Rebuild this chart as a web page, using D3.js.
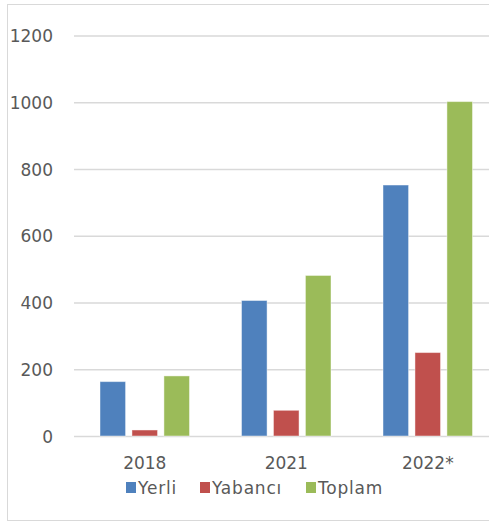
<!DOCTYPE html>
<html><head><meta charset="utf-8">
<script src="https://cdn.jsdelivr.net/npm/d3@7"></script>
<style>html,body{margin:0;padding:0;background:#fff;}svg{display:block;}</style>
</head><body>
<svg id="c" width="489" height="522"></svg>
<script>
const categories = ["2018", "2021", "2022*"];
const seriesNames = ["Yerli", "Yabancı", "Toplam"];
const yerli = [163, 406, 752];
const yabanci = [18, 77, 250];
const toplam = [180, 481, 1002];
const yTicks = [0, 200, 400, 600, 800, 1000, 1200];
const colors = ["#4F81BD", "#C0504D", "#9BBB59"];

const values = [yerli, yabanci, toplam];
const svg = d3.select("#c");
const font = "'DejaVu Sans', sans-serif";
const textColor = "#595959";

// outer border
svg.append("rect").attr("x", 7.5).attr("y", 4.5).attr("width", 500).attr("height", 516)
  .attr("fill", "none").attr("stroke", "#d9d9d9").attr("stroke-width", 1);

const left = 74, step = 141.5;
const x0 = d3.scaleBand().domain(categories).range([left, left + step * categories.length]).padding(0);
const x1 = d3.scaleBand().domain(seriesNames).range([26, 115.5]).paddingInner(0.2).paddingOuter(0);
const y = d3.scaleLinear().domain([0, 1200]).range([436, 35.5]);

// gridlines
const yAxis = d3.axisLeft(y).tickValues(yTicks).tickSize(0).tickPadding(0).tickFormat(d3.format("d"));
const gy = svg.append("g").attr("transform", `translate(${left},0)`).call(yAxis);
gy.select(".domain").remove();
gy.selectAll(".tick line").attr("x2", 489 - left).attr("stroke", "#d9d9d9").attr("stroke-width", 1.3);
gy.selectAll(".tick text").attr("x", -21).attr("dy", "0.36em").attr("fill", textColor)
  .style("font-family", font).style("font-size", "17px");

// bars
const groups = svg.selectAll("g.grp").data(categories).join("g").attr("class", "grp")
  .attr("transform", d => `translate(${x0(d)},0)`);
groups.selectAll("rect").data((d, i) => seriesNames.map((s, j) => ({s, j, v: values[j][i]})))
  .join("rect")
  .attr("x", d => x1(d.s))
  .attr("y", d => y(d.v))
  .attr("width", x1.bandwidth())
  .attr("height", d => y(0) - y(d.v))
  .attr("fill", d => colors[d.j])
  .attr("stroke", "rgba(255,255,255,0.45)").attr("stroke-width", 1);

// x axis labels
const xAxis = d3.axisBottom(x0).tickSize(0).tickPadding(0);
const gx = svg.append("g").attr("transform", "translate(0,457)").call(xAxis);
gx.select(".domain").remove();
gx.selectAll(".tick text").attr("dy", "0.71em").attr("fill", textColor)
  .style("font-family", font).style("font-size", "17px");

// legend
const legendX = [126, 200, 306];
const lg = svg.append("g");
seriesNames.forEach((s, j) => {
  lg.append("rect").attr("x", legendX[j]).attr("y", 482).attr("width", 10).attr("height", 11).attr("fill", colors[j]);
  lg.append("text").attr("x", legendX[j] + 12).attr("y", 493.5).text(s)
    .attr("fill", textColor).style("font-family", font).style("font-size", "17px")
    .style("letter-spacing", "0.8px");
});
</script>
</body></html>
